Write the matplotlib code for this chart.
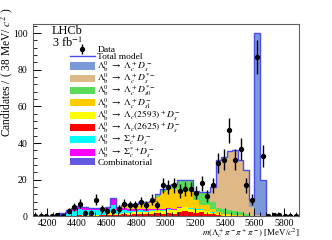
import numpy as np
import matplotlib
matplotlib.use('Agg')
import matplotlib.pyplot as plt
from matplotlib.patches import Patch, Rectangle
from matplotlib.lines import Line2D
from matplotlib.legend_handler import HandlerPatch
from matplotlib.ticker import MultipleLocator

plt.rcParams['font.family'] = ['Liberation Serif', 'DejaVu Serif']
plt.rcParams['mathtext.fontset'] = 'stix'

# binning of m(Lc pi pi pi), 48 bins
m_lo, m_hi, n_bins = 4100, 5900, 48

# data counts per bin
data = [0, 0, 0, 0, 1, 0, 3, 5, 7, 2, 2, 9, 4, 3, 3, 4,
        7, 6, 6, 8, 6, 9, 6, 17, 16, 17, 14, 15, 15, 13, 18, 11,
        17, 29, 31, 47, 31, 37, 17, 9, 87, 33, 0, 1, 1, 0, 0, 0]

# fit components (stacked bottom -> top)
comb = [0.1, 0.1, 0.2, 0.3, 0.6, 1.5, 0.5, 0.5, 0.5, 0.5, 0.4, 0.4, 0.4, 0.4, 0.4, 0.4,
        0.4, 0.4, 0.4, 0.4, 0.4, 0.3, 0.3, 0.3, 0.3, 0.3, 0.3, 0.3, 0.3, 0.3, 0.3, 0.3,
        0.3, 0.2, 0.2, 0.2, 0.2, 0.2, 0.2, 0.2, 0.2, 0.2, 0.1, 0.1, 0.1, 0.1, 0.1, 0.1]
lc2625 = [0, 0, 0, 0, 0, 0, 0, 0, 0.1, 0, 0.1, 0.1, 0.2, 0.3, 0.3, 0.5,
          0.8, 0.6, 0.8, 1.0, 0.8, 1.2, 1.5, 1.0, 1.5, 1.2, 2.0, 2.5, 2.0, 1.5, 2.0, 1.0,
          0.8, 0.5, 0.3, 0.2, 0.1, 0.1, 0, 0, 0, 0, 0, 0, 0, 0, 0, 0]
lc2593 = [0, 0, 0, 0, 0, 0, 0, 0, 0.2, 0.2, 0.2, 0.3, 0.4, 0.5, 1.5, 0.5,
          0.8, 1.0, 1.0, 1.2, 1.2, 1.3, 1.5, 1.8, 2.0, 2.0, 2.2, 2.2, 2.0, 2.0, 1.5, 1.5,
          1.0, 0.5, 0.3, 0.2, 0.2, 0.1, 0, 0, 0, 0, 0, 0, 0, 0, 0, 0]
sigc = [0, 0, 0, 0, 0.1, 0.3, 2.2, 2.7, 3.2, 3.0, 2.6, 2.5, 2.3, 2.3, 4.3, 2.0,
        1.5, 1.2, 1.0, 0.8, 0.8, 0.6, 0.5, 0.5, 0.4, 0.3, 0.3, 0.2, 0.2, 0.2, 0.1, 0.1,
        0.1, 0, 0, 0, 0, 0, 0, 0, 0, 0, 0, 0, 0, 0, 0, 0]
sigcst = [0, 0, 0, 0, 0.1, 0.2, 0.8, 1.3, 1.5, 1.3, 1.2, 1.2, 1.2, 1.3, 3.0, 1.3,
          1.0, 1.0, 0.8, 0.8, 0.7, 0.6, 0.5, 0.5, 0.4, 0.3, 0.3, 0.2, 0.2, 0.1, 0.1, 0.1,
          0.1, 0, 0, 0, 0, 0, 0, 0, 0, 0, 0, 0, 0, 0, 0, 0]
ds1 = [0, 0, 0, 0, 0, 0, 0, 0, 0, 0, 0, 0, 0, 0.2, 0.5, 0.3,
       1.5, 2.8, 3.0, 3.8, 4.1, 4.0, 6.2, 9.4, 10.4, 10.9, 8.9, 8.6, 9.3, 4.9, 2.5, 3.0,
       2.0, 1.0, 0.7, 0.5, 0.3, 0.2, 0.1, 0, 0, 0, 0, 0, 0, 0, 0, 0]
ds0st = [0, 0, 0, 0, 0, 0, 0, 0, 0, 0, 0, 0, 0, 0, 0, 0,
         0, 0, 0, 0, 0, 0.5, 1.5, 1.5, 2.0, 2.5, 6.0, 6.0, 6.0, 5.0, 6.5, 7.0,
         3.7, 2.5, 2.5, 2.5, 2.2, 2.0, 0.8, 0.2, 0, 0, 0, 0, 0, 0, 0, 0]
dsst = [0, 0, 0, 0, 0, 0, 0, 0, 0, 0, 0, 0, 0, 0, 0, 0,
        0, 0, 0, 0, 0, 0, 0, 0, 0, 0, 0, 0, 0, 0, 0.5, 0.5,
        8.0, 26.3, 28.5, 32.1, 33.5, 28.4, 24.0, 4.6, 0.8, 0, 0, 0, 0, 0, 0, 0]
ds = [0, 0, 0, 0, 0, 0, 0, 0, 0, 0, 0, 0, 0, 0, 0, 0,
      0, 0, 0, 0, 0, 0, 0, 0, 0, 0, 0, 0, 0, 0, 0, 0,
      0, 0, 0, 0, 0, 0, 0.4, 4.0, 99.0, 19.5, 0, 0, 0, 0, 0, 0]

edges = np.linspace(m_lo, m_hi, n_bins + 1)
centers = 0.5 * (edges[1:] + edges[:-1])
data = np.array(data, dtype=float)

stack = [
    (comb, '#6457e0'),
    (lc2625, '#ff0000'),
    (lc2593, '#ffff00'),
    (sigc, '#00ffff'),
    (sigcst, '#ff00ff'),
    (ds1, '#ffcc00'),
    (ds0st, '#5adc5a'),
    (dsst, '#deb887'),
    (ds, '#7b98d9'),
]

fig = plt.figure(figsize=(3.32, 2.40), dpi=100)
ax = fig.add_axes([0.098, 0.098, 0.802, 0.802])

base = np.zeros(n_bins)
for vals, col in stack:
    vals = np.array(vals, dtype=float)
    ax.stairs(base + vals, edges, baseline=base.copy(), fill=True, color=col, lw=0)
    base = base + vals

ax.stairs(base, edges, baseline=None, color='#4b4bf0', lw=1.0)

err = np.sqrt(data)
eb = ax.errorbar(centers, data, yerr=err, fmt='o', ms=2.8, color='black',
                 ecolor='black', elinewidth=1.0, capsize=0)

ax.set_xlim(m_lo, m_hi)
ax.set_ylim(0, 105)
ax.xaxis.set_major_locator(MultipleLocator(200))
ax.xaxis.set_minor_locator(MultipleLocator(40))
ax.yaxis.set_major_locator(MultipleLocator(20))
ax.yaxis.set_minor_locator(MultipleLocator(4))
ax.tick_params(which='both', direction='in', labelsize=7)
ax.tick_params(which='major', length=5.5, width=0.7)
ax.tick_params(which='minor', length=2.8, width=0.6)
ax.tick_params(axis='x', pad=2)
ax.set_xticks([4200, 4400, 4600, 4800, 5000, 5200, 5400, 5600, 5800])
for sp in ax.spines.values():
    sp.set_color('#606060')
    sp.set_linewidth(0.8)

fig.text(0.021, 0.967, 'Candidates / ( 38 MeV/ $c^2$ )', rotation=90,
         ha='center', va='top', fontsize=8.3)
fig.text(0.903, 0.017, r'$m(\Lambda_c^+\pi^-\pi^+\pi^-)$ [MeV/$c^2$]',
         ha='right', va='baseline', fontsize=6.4)

ax.text(0.073, 0.995, 'LHCb\n3 fb$^{-1}$', transform=ax.transAxes, ha='left',
        va='top', fontsize=8.8, linespacing=0.85)

labels = [
    'Data',
    'Total model',
    r'$\Lambda_{\rm b}^0\ \rightarrow\ \Lambda_c^+D_s^-$',
    r'$\Lambda_{\rm b}^0\ \rightarrow\ \Lambda_c^+D_s^{*-}$',
    r'$\Lambda_{\rm b}^0\ \rightarrow\ \Lambda_c^+D_{s0}^{*-}$',
    r'$\Lambda_{\rm b}^0\ \rightarrow\ \Lambda_c^+D_{s1}^{-}$',
    r'$\Lambda_{\rm b}^0\ \rightarrow\ \Lambda_c(2593)^+D_s^-$',
    r'$\Lambda_{\rm b}^0\ \rightarrow\ \Lambda_c(2625)^+D_s^-$',
    r'$\Lambda_{\rm b}^0\ \rightarrow\ \Sigma_c^+D_s^-$',
    r'$\Lambda_{\rm b}^0\ \rightarrow\ \Sigma_c^{*+}D_s^-$',
    'Combinatorial',
]
handles = [eb, Line2D([], [], color='#4b4bf0', lw=1.0)]
legend_cols = ['#7b98d9', '#deb887', '#5adc5a', '#ffcc00', '#ffff00',
               '#ff0000', '#00ffff', '#ff00ff', '#6457e0']
for c in legend_cols:
    handles.append(Patch(facecolor=c, edgecolor='none'))


def small_box(legend, orig_handle, xdescent, ydescent, width, height, fontsize):
    # swatch a bit thinner than the legend row
    h = 0.75 * fontsize
    return Rectangle((-xdescent, -ydescent + (height - h) / 2), width, h)


ax.legend(handles, labels, loc='upper left', bbox_to_anchor=(0.141, 0.888),
          frameon=False, fontsize=6.8, handlelength=2.6, handleheight=0.8,
          handletextpad=0.3, labelspacing=-0.21, borderpad=0, borderaxespad=0,
          handler_map={Patch: HandlerPatch(patch_func=small_box)})

fig.savefig('out.png', dpi=100)
